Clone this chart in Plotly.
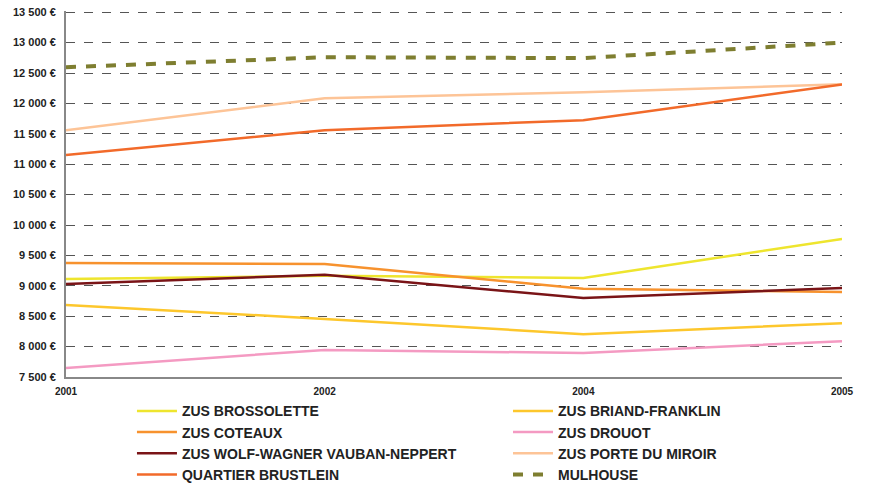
import plotly.graph_objects as go

years = ["2001", "2002", "2004", "2005"]

series_names = [
    "ZUS BROSSOLETTE",
    "ZUS BRIAND-FRANKLIN",
    "ZUS COTEAUX",
    "ZUS DROUOT",
    "ZUS WOLF-WAGNER VAUBAN-NEPPERT",
    "ZUS PORTE DU MIROIR",
    "QUARTIER BRUSTLEIN",
    "MULHOUSE",
]

brossolette = [9110, 9165, 9130, 9770]
briand_franklin = [8685, 8455, 8205, 8385]
coteaux = [9375, 9360, 8950, 8900]
drouot = [7650, 7945, 7895, 8090]
wolf_wagner = [9030, 9180, 8800, 8965]
porte_miroir = [11560, 12085, 12185, 12315]
brustlein = [11150, 11560, 11725, 12310]
mulhouse = [12595, 12760, 12745, 13000]

values = [brossolette, briand_franklin, coteaux, drouot,
          wolf_wagner, porte_miroir, brustlein, mulhouse]
colors = ["#EEE52E", "#FDC72C", "#F7922E", "#F49AC2",
          "#7A1417", "#FDC497", "#F26A2A", "#7E7E30"]

y_ticks = list(range(7500, 13501, 500))
y_ticktext = [f"{v:,}".replace(",", " ") + " €" for v in y_ticks]

fig = go.Figure()
for i, (name, vals, col) in enumerate(zip(series_names, values, colors)):
    if name == "MULHOUSE":
        line = dict(color=col, width=4, dash="10px,10px")
    else:
        line = dict(color=col, width=2.5)
    fig.add_trace(go.Scatter(x=years, y=vals, name=name, mode="lines", line=line,
                             legend="legend" if i % 2 == 0 else "legend2"))

legend_font = dict(family="Liberation Sans, Arial, sans-serif",
                   size=14, color="#222", weight="bold")
common_leg = dict(orientation="v", yanchor="top", xanchor="left",
                  font=legend_font, tracegroupgap=0, bgcolor="rgba(0,0,0,0)",
                  itemwidth=40)

fig.update_layout(
    width=872, height=486,
    margin=dict(l=66, r=30, t=11, b=109, autoexpand=False),
    paper_bgcolor="white", plot_bgcolor="white",
    font=dict(family="Liberation Sans, Arial, sans-serif", color="#222"),
    showlegend=True,
    legend=dict(x=0.085, y=-0.05, **common_leg),
    legend2=dict(x=0.5696, y=-0.05, **common_leg),
)

fig.update_xaxes(
    type="category", range=[0, 3],
    showgrid=False, showline=True, linecolor="#888", linewidth=2,
    ticks="", tickfont=dict(size=10, color="#222", family="Liberation Sans, Arial, sans-serif",
                            weight="bold"),
    ticklabelstandoff=4,
)
fig.update_yaxes(
    range=[7500, 13520],
    tickvals=y_ticks, ticktext=y_ticktext,
    showgrid=True, gridcolor="#555", griddash="dash", gridwidth=1,
    showline=True, linecolor="#888", linewidth=2,
    zeroline=False, ticks="",
    tickfont=dict(size=11, color="#222", family="Liberation Sans, Arial, sans-serif",
                  weight="bold"),
    ticklabelstandoff=6,
    ticklabeloverflow="allow",
)

fig.write_html("out.html", config={"displayModeBar": False},
               post_script="document.body.style.margin='0';")
